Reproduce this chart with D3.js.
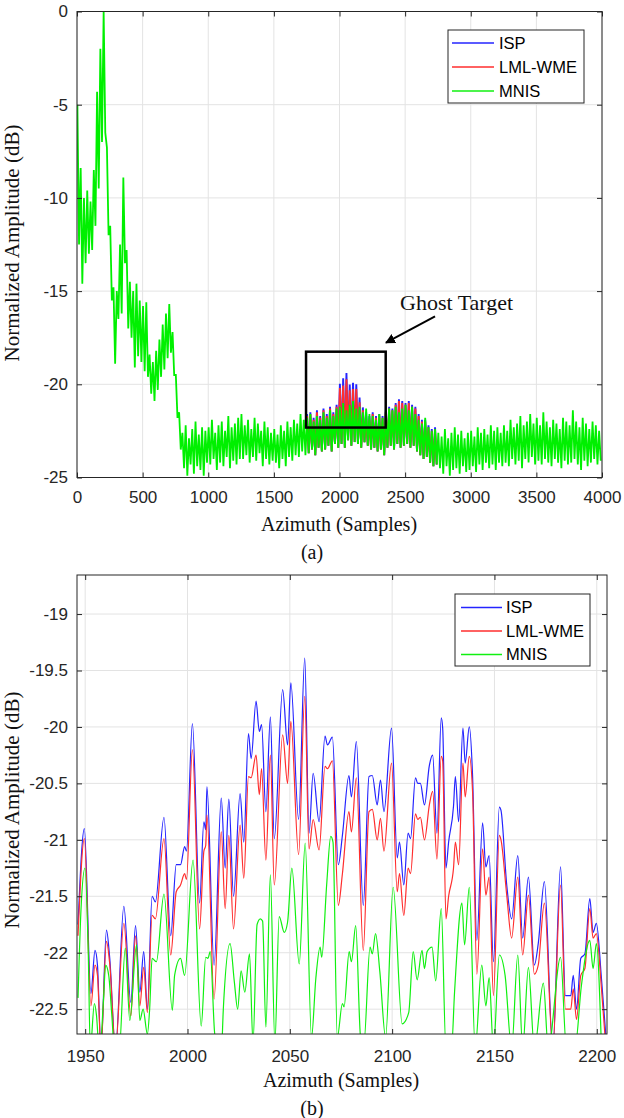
<!DOCTYPE html>
<html><head><meta charset="utf-8">
<script src="https://cdn.jsdelivr.net/npm/d3@7"></script>
<style>body{margin:0;background:#fff}</style>
</head><body>
<svg id="c" width="624" height="1118"></svg>
<script>
// ---------- DATA ----------
const seriesNames = ["ISP", "LML-WME", "MNIS"];
const seriesColors = ["#2424ff", "#ff2e2e", "#10f010"];

// Panel (a): envelopes per 25-sample bin (upper / lower)
const topBinStart = d3.range(0, 4000, 25);
const mnisHi = [
 -5.0,-8.4,-10.0,-9.6,-10.2,-8.5,-4.3,-2.0,0.0,-7.3,-11.5,-14.8,-15.0,-12.5,-8.9,-12.8,
 -14.5,-15.0,-14.6,-15.5,-15.8,-15.6,-18.4,-18.8,-18.2,-17.6,-16.8,-16.2,-15.7,-17.2,-19.5,-21.5,
 -22.6,-22.2,-22.9,-22.4,-22.0,-22.7,-22.3,-22.5,
 -22.3,-21.9,-22.6,-22.2,-22.0,-22.5,-21.7,-22.3,-22.1,-21.8,
 -21.6,-22.2,-21.9,-22.4,-21.8,-22.1,-22.5,-22.0,-22.3,-22.6,
 -22.4,-22.7,-22.2,-22.5,-22.0,-22.3,-21.9,-22.1,-21.6,-21.9,
 -21.8,-21.6,-22.0,-21.7,-21.9,-21.5,-21.8,-21.4,-21.7,-21.3,
 -21.2,-21.0,-21.4,-21.1,-20.9,-21.3,-21.2,-21.5,-21.3,-21.6,
 -21.7,-21.9,-21.6,-21.8,-21.5,-21.3,-21.4,-21.2,-21.5,-21.3,
 -21.1,-21.4,-21.2,-21.6,-21.9,-22.1,-21.8,-22.3,-22.5,-22.4,
 -22.6,-22.8,-22.4,-22.9,-22.6,-22.3,-22.7,-22.5,-22.9,-22.6,
 -22.5,-22.8,-22.3,-22.6,-22.4,-22.7,-22.2,-22.5,-22.3,-22.6,
 -22.2,-22.5,-21.9,-22.3,-22.1,-21.7,-22.2,-22.0,-21.6,-22.1,
 -21.8,-22.2,-21.5,-22.0,-22.3,-21.9,-22.1,-22.4,-21.8,-22.0,
 -22.2,-21.4,-22.0,-22.3,-21.8,-22.1,-22.4,-22.0,-22.2,-22.5
];
const mnisLo = [
 -12.5,-14.6,-13.5,-13.0,-12.8,-11.5,-9.5,-7.0,-6.5,-12.0,-15.5,-18.9,-16.5,-16.2,-13.5,-17.0,
 -17.5,-19.1,-18.5,-18.8,-19.3,-19.6,-20.5,-20.9,-20.3,-19.6,-19.2,-18.6,-18.3,-19.5,-21.8,-23.5,
 -24.5,-24.9,-24.3,-24.8,-24.4,-24.6,-24.9,-24.2,
 -24.3,-24.0,-24.6,-24.2,-24.4,-23.9,-24.5,-24.1,-24.3,-24.0,
 -24.0,-23.8,-24.2,-23.9,-24.1,-23.7,-24.4,-24.0,-24.3,-24.1,
 -24.2,-24.5,-24.0,-24.4,-23.9,-24.1,-23.8,-23.9,-23.6,-23.8,
 -23.7,-23.5,-23.8,-23.4,-23.6,-23.5,-23.3,-23.6,-23.2,-23.4,
 -23.2,-23.4,-23.0,-23.3,-23.1,-23.2,-23.4,-23.1,-23.3,-23.5,
 -23.4,-23.6,-23.5,-23.8,-23.4,-23.3,-23.5,-23.2,-23.4,-23.3,
 -23.2,-23.4,-23.3,-23.6,-23.8,-24.0,-23.9,-24.2,-24.4,-24.3,
 -24.5,-24.8,-24.4,-24.9,-24.6,-24.5,-24.8,-24.4,-24.7,-24.6,
 -24.4,-24.7,-24.3,-24.6,-24.2,-24.5,-24.3,-24.6,-24.2,-24.4,
 -24.2,-24.4,-24.0,-24.3,-24.1,-24.5,-24.0,-24.2,-23.9,-24.3,
 -24.1,-24.3,-24.0,-24.2,-24.4,-24.0,-24.2,-24.5,-24.1,-24.3,
 -24.2,-24.0,-24.3,-24.6,-24.1,-24.4,-24.2,-24.0,-24.3,-24.1
];
// ISP / LML-WME upper envelopes where they rise above MNIS (1750-2750)
const ghostBinStart = d3.range(1750, 2750, 25);
const ispHi = [
 -21.6,-21.5,-21.8,-21.4,-21.7,-21.3,-21.6,-21.2,-21.5,-21.1,
 -19.97,-19.67,-19.39,-20.01,-19.92,-20.0,-20.71,-21.24,-21.5,-21.7,
 -21.5,-21.7,-21.6,-21.7,-21.4,-21.2,-21.3,-21.0,-20.8,-20.9,
 -21.0,-20.9,-21.1,-21.2,-21.6,-21.9,-21.9,-22.2,-22.4,-22.3
];
const lmlHi = [
 -21.7,-21.6,-21.9,-21.5,-21.8,-21.4,-21.7,-21.3,-21.6,-21.2,
 -20.2,-20.07,-19.73,-20.32,-20.26,-20.26,-20.96,-21.4,-21.7,-21.9,
 -21.6,-21.8,-21.7,-21.8,-21.5,-21.3,-21.4,-21.1,-20.9,-21.0,
 -21.1,-21.0,-21.2,-21.3,-21.7,-22.0,-22.0,-22.3,-22.5,-22.4
];
const ghostLo = [
 -23.7,-23.5,-23.8,-23.4,-23.6,-23.5,-23.3,-23.6,-23.2,-23.4,
 -23.2,-23.4,-23.0,-23.3,-23.1,-23.2,-23.4,-23.1,-23.3,-23.5,
 -23.4,-23.6,-23.5,-23.8,-23.4,-23.3,-23.5,-23.2,-23.4,-23.3,
 -23.2,-23.4,-23.3,-23.6,-23.8,-24.0,-23.9,-24.2,-24.4,-24.3
];

// Panel (b): zoom 1946-2205
const zoomSamples = [1946.5,1949.6,1952.8,1954.8,1956.0,1957.7,1960.4,1962.0,1964.8,1968.9,1972.3,1974.6,1976.7,1978.6,1980.4,1982.7,1984.3,1988.5,1991.8,1994.5,1996.6,1998.6,1999.5,2002.4,2005.9,2008.0,2008.9,2009.5,2013.0,2016.5,2018.4,2020.2,2022.5,2025.7,2027.5,2029.8,2031.1,2033.5,2035.1,2036.2,2038.3,2040.5,2042.4,2046.5,2048.9,2050.5,2054.3,2057.3,2059.4,2061.4,2064.3,2067.2,2068.4,2070.8,2073.7,2075.7,2078.9,2080.1,2082.5,2085.9,2088.7,2090.3,2092.7,2094.3,2096.0,2099.7,2102.5,2103.6,2105.7,2107.8,2109.0,2111.4,2112.5,2113.8,2115.8,2118.2,2119.8,2121.9,2124.0,2124.7,2126.3,2127.6,2130.0,2130.9,2132.5,2134.6,2135.7,2137.7,2139.3,2141.4,2144.2,2145.8,2147.4,2149.5,2152.4,2153.2,2156.0,2158.4,2161.4,2163.8,2166.6,2169.5,2171.4,2174.4,2178.5,2182.3,2184.7,2187.3,2188.5,2190.1,2192.2,2194.2,2196.6,2198.2,2199.8,2202.3,2204.5];
const ispValues = [-21.75,-20.90,-22.36,-21.98,-22.11,-22.85,-21.80,-22.05,-22.85,-21.59,-22.44,-21.76,-22.35,-21.99,-22.50,-21.50,-21.55,-20.80,-21.85,-21.22,-21.22,-21.06,-21.10,-19.97,-21.56,-20.84,-20.91,-20.53,-22.11,-20.63,-21.25,-20.64,-21.50,-20.59,-21.02,-20.06,-20.28,-19.77,-20.04,-19.98,-20.75,-19.91,-20.99,-19.67,-20.16,-19.61,-20.82,-19.39,-20.94,-20.41,-20.84,-20.08,-20.16,-20.09,-21.22,-20.96,-20.43,-20.62,-20.13,-21.58,-20.44,-20.43,-20.69,-20.47,-20.75,-20.01,-21.16,-21.02,-21.40,-20.94,-20.99,-20.45,-20.50,-20.50,-20.69,-20.34,-20.25,-20.94,-19.92,-20.01,-21.25,-21.02,-20.70,-20.44,-20.84,-20.01,-20.32,-20.00,-20.43,-21.89,-20.85,-21.24,-21.14,-22.08,-20.71,-20.74,-21.40,-21.70,-21.14,-21.87,-21.33,-22.11,-21.92,-21.37,-22.85,-21.24,-22.38,-22.38,-22.20,-22.50,-22.05,-22.01,-21.52,-21.82,-21.74,-22.23,-22.75];
const lmlValues = [-21.85,-20.99,-22.47,-22.11,-22.20,-22.85,-21.90,-22.10,-22.85,-21.74,-22.56,-21.85,-22.47,-22.13,-22.53,-21.67,-21.70,-20.99,-22.02,-21.46,-21.40,-21.30,-21.35,-20.20,-21.79,-21.10,-21.05,-20.78,-22.41,-20.93,-21.61,-20.96,-21.79,-20.87,-21.34,-20.44,-20.45,-20.25,-20.60,-20.37,-21.18,-20.25,-21.40,-20.07,-20.50,-19.95,-21.13,-19.73,-21.08,-20.82,-21.09,-20.35,-20.37,-20.30,-21.58,-21.30,-20.75,-20.93,-20.45,-21.98,-20.75,-20.73,-21.00,-20.81,-21.10,-20.32,-21.46,-21.30,-21.67,-21.25,-21.30,-20.77,-20.82,-20.80,-21.00,-20.69,-20.57,-21.17,-20.26,-20.30,-21.70,-21.50,-21.25,-21.02,-21.22,-20.32,-20.62,-20.26,-20.57,-22.19,-21.08,-21.49,-21.33,-22.38,-20.96,-21.00,-21.49,-21.87,-21.33,-22.02,-21.49,-22.19,-22.11,-21.56,-22.85,-21.40,-22.50,-22.50,-22.32,-22.59,-22.20,-22.14,-21.61,-21.87,-21.83,-22.32,-22.85];
const mnisSamples = [1946.5,1948.0,1949.9,1951.5,1952.5,1954.5,1955.5,1957.0,1959.0,1960.0,1961.5,1963.0,1964.5,1966.5,1969.6,1971.8,1975.1,1976.7,1978.3,1980.4,1981.5,1982.7,1984.8,1988.5,1992.6,1993.7,1996.6,1998.6,2002.7,2006.7,2008.9,2010.0,2011.1,2013.2,2014.8,2016.5,2017.5,2020.8,2022.9,2024.5,2026.2,2028.0,2030.3,2032.0,2034.0,2035.6,2036.7,2038.3,2040.5,2042.7,2044.8,2047.3,2048.9,2051.0,2054.6,2057.5,2060.6,2062.7,2064.8,2065.6,2068.0,2070.0,2071.1,2073.2,2075.7,2076.5,2079.0,2080.1,2082.2,2084.6,2086.2,2089.2,2090.3,2091.9,2094.0,2096.8,2100.5,2104.9,2108.1,2110.3,2112.2,2114.6,2115.8,2117.1,2119.5,2121.3,2124.0,2126.3,2129.0,2130.5,2134.1,2135.4,2137.7,2140.6,2143.8,2145.8,2147.4,2149.5,2152.4,2155.2,2158.4,2161.4,2163.8,2166.6,2169.5,2173.9,2176.3,2182.3,2185.2,2189.3,2192.5,2196.6,2198.2,2199.8,2202.3];
const mnisValues = [-22.40,-21.60,-21.25,-22.00,-22.85,-22.45,-22.55,-22.90,-22.40,-22.11,-22.20,-22.55,-22.90,-22.90,-21.96,-22.60,-21.93,-22.60,-22.50,-22.72,-22.50,-22.05,-22.08,-21.48,-22.51,-22.20,-22.05,-22.20,-21.18,-22.65,-22.04,-22.05,-21.99,-22.70,-22.90,-22.90,-22.50,-21.92,-22.26,-22.50,-22.16,-22.35,-22.01,-22.80,-21.75,-21.70,-21.72,-22.66,-21.31,-22.80,-21.68,-21.82,-21.73,-21.25,-22.10,-21.03,-22.75,-22.23,-21.95,-22.04,-21.40,-20.97,-21.02,-22.75,-22.45,-22.48,-21.99,-22.08,-21.76,-22.75,-22.80,-21.95,-22.01,-21.83,-22.17,-22.75,-21.42,-22.63,-22.53,-21.99,-22.24,-21.98,-22.14,-21.99,-21.95,-22.25,-21.61,-22.85,-22.85,-22.35,-21.56,-21.93,-21.42,-22.85,-22.11,-22.47,-22.22,-22.85,-22.02,-22.20,-22.85,-22.02,-22.85,-22.13,-22.85,-22.27,-22.85,-22.04,-22.85,-22.85,-22.29,-21.89,-22.14,-21.92,-22.85];

// ticks
const topXTicks = [0,500,1000,1500,2000,2500,3000,3500,4000];
const topYTicks = [-25,-20,-15,-10,-5,0];
const botXTicks = [1950,2000,2050,2100,2150,2200];
const botYTicks = [-22.5,-22,-21.5,-21,-20.5,-20,-19.5,-19];

// annotation (data coords of panel a)
const ghostBox = {x0:1745, x1:2352, y0:-18.25, y1:-22.32};
const ghostArrow = {fromX:2728, fromY:-16.36, toX:2354, toY:-17.77};
const ghostLabel = {x:2461, y:-16.04, text:"Ghost Target"};

// ---------- DRAW ----------
const svg = d3.select("#c");
const SANS = "'Liberation Sans', Arial, Helvetica, sans-serif";
const SERIF = "'Liberation Serif', 'Times New Roman', serif";
const AX = "#262626";

const defs = svg.append("defs");
defs.append("marker").attr("id","arr").attr("viewBox","0 0 10 10").attr("refX",9).attr("refY",5)
  .attr("markerWidth",5).attr("markerHeight",5).attr("orient","auto")
  .append("path").attr("d","M0,0 L10,5 L0,10 z").attr("fill","#000");

function panel(cfg){
  const {L,R,T,B,xDom,yDom,xTicks,yTicks,padX,id} = cfg;
  const x = d3.scaleLinear().domain(xDom).range([L,R]);
  const y = d3.scaleLinear().domain(yDom).range([B,T]);
  const g = svg.append("g");
  g.append("g").selectAll("line").data(xTicks).join("line")
    .attr("x1",d=>x(d)).attr("x2",d=>x(d)).attr("y1",T).attr("y2",B)
    .attr("stroke","#e3e3e3").attr("stroke-width",1);
  g.append("g").selectAll("line").data(yTicks).join("line")
    .attr("y1",d=>y(d)).attr("y2",d=>y(d)).attr("x1",L).attr("x2",R)
    .attr("stroke","#e3e3e3").attr("stroke-width",1);
  defs.append("clipPath").attr("id",id).append("rect")
    .attr("x",L).attr("y",T).attr("width",R-L).attr("height",B-T);
  const data = g.append("g").attr("clip-path",`url(#${id})`);
  const fmt = d=>String(d);
  const ax = [
    [d3.axisBottom(x).tickValues(xTicks).tickSize(-5).tickPadding(padX).tickFormat(fmt), `translate(0,${B})`],
    [d3.axisTop(x).tickValues(xTicks).tickSize(-5).tickFormat(""), `translate(0,${T})`],
    [d3.axisLeft(y).tickValues(yTicks).tickSize(-5).tickPadding(9).tickFormat(fmt), `translate(${L},0)`],
    [d3.axisRight(y).tickValues(yTicks).tickSize(-5).tickFormat(""), `translate(${R},0)`]
  ];
  const axG = svg.append("g");
  ax.forEach(([a,tr])=>{
    const gg = axG.append("g").attr("transform",tr).call(a);
    gg.select(".domain").remove();
    gg.selectAll("line").attr("stroke",AX);
    gg.selectAll("text").attr("fill",AX).style("font-family",SANS).style("font-size","17px");
  });
  axG.append("rect").attr("x",L).attr("y",T).attr("width",R-L).attr("height",B-T)
    .attr("fill","none").attr("stroke",AX).attr("stroke-width",1);
  return {x,y,data,axG};
}

// zig-zag trace between the upper and lower envelope of each bin
function zig(bins, hi, lo){
  const pts = [];
  bins.forEach((s,i)=>{ pts.push([s+3,hi[i]]); pts.push([s+15.5,lo[i]]); });
  return pts;
}

function legend(parent, bx, by, bw, bh, lineX0, lineX1, textX, rows){
  parent.append("rect").attr("x",bx).attr("y",by).attr("width",bw).attr("height",bh)
    .attr("fill","#fff").attr("stroke",AX).attr("stroke-width",1);
  seriesNames.forEach((n,i)=>{
    parent.append("line").attr("x1",lineX0).attr("x2",lineX1).attr("y1",rows[i]).attr("y2",rows[i])
      .attr("stroke",seriesColors[i]).attr("stroke-width",1.3);
    parent.append("text").attr("x",textX).attr("y",rows[i]).attr("dy","0.36em")
      .attr("fill","#000").style("font-family",SANS).style("font-size","16.5px").text(n);
  });
}

// ---- Panel (a)
const A = panel({L:77,R:602,T:11.5,B:477.5,xDom:[0,4000],yDom:[-25,0],xTicks:topXTicks,yTicks:topYTicks,padX:13,id:"ca"});
const lineA = d3.line().x(d=>A.x(d[0])).y(d=>A.y(d[1]));
function drawTop(bins, hi, lo, color, w){
  A.data.append("path").attr("d",lineA(zig(bins,hi,lo)))
    .attr("fill","none").attr("stroke",color).attr("stroke-width",w).attr("stroke-linejoin","miter");
}
drawTop(ghostBinStart, ispHi, ghostLo, seriesColors[0], 1.9);
drawTop(ghostBinStart, lmlHi, ghostLo, seriesColors[1], 1.9);
drawTop(topBinStart, mnisHi, mnisLo, "#00f000", 1.8);

legend(A.axG, 448, 30, 136, 73, 452, 494, 499, [43, 67, 91]);

A.axG.append("rect").attr("x",A.x(ghostBox.x0)).attr("y",A.y(ghostBox.y0))
  .attr("width",A.x(ghostBox.x1)-A.x(ghostBox.x0)).attr("height",A.y(ghostBox.y1)-A.y(ghostBox.y0))
  .attr("fill","none").attr("stroke","#000").attr("stroke-width",2.5);
A.axG.append("line").attr("x1",A.x(ghostArrow.fromX)).attr("y1",A.y(ghostArrow.fromY))
  .attr("x2",A.x(ghostArrow.toX)).attr("y2",A.y(ghostArrow.toY))
  .attr("stroke","#000").attr("stroke-width",2).attr("marker-end","url(#arr)");
A.axG.append("text").attr("x",A.x(ghostLabel.x)).attr("y",A.y(ghostLabel.y))
  .style("font-family",SERIF).style("font-size","22px").attr("fill","#111").text(ghostLabel.text);

svg.append("text").attr("transform","translate(19,243) rotate(-90)").attr("text-anchor","middle")
  .style("font-family",SERIF).style("font-size","21px").attr("fill","#111").text("Normalized Amplitude (dB)");
svg.append("text").attr("x",339).attr("y",531).attr("text-anchor","middle")
  .style("font-family",SERIF).style("font-size","20px").attr("fill","#111").text("Azimuth (Samples)");
svg.append("text").attr("x",312).attr("y",559).attr("text-anchor","middle")
  .style("font-family",SERIF).style("font-size","20px").attr("fill","#111").text("(a)");

// ---- Panel (b)
const Bp = panel({L:77,R:607,T:575,B:1034,xDom:[1946,2205],yDom:[-22.72,-18.654],xTicks:botXTicks,yTicks:botYTicks,padX:16,id:"cb"});
const lineB = d3.line().x(d=>Bp.x(d[0])).y(d=>Bp.y(d[1])).curve(d3.curveMonotoneX);
const zipS = (xs,ys)=>xs.map((s,i)=>[s,ys[i]]);
Bp.data.append("path").attr("d",lineB(zipS(zoomSamples,ispValues)))
  .attr("fill","none").attr("stroke",seriesColors[0]).attr("stroke-width",1.2);
Bp.data.append("path").attr("d",lineB(zipS(zoomSamples,lmlValues)))
  .attr("fill","none").attr("stroke",seriesColors[1]).attr("stroke-width",1.2);
Bp.data.append("path").attr("d",lineB(zipS(mnisSamples,mnisValues)))
  .attr("fill","none").attr("stroke",seriesColors[2]).attr("stroke-width",1.2);

legend(Bp.axG, 455, 594, 135, 72, 461, 502, 506, [607.5, 631, 654.5]);

svg.append("text").attr("transform","translate(19,810) rotate(-90)").attr("text-anchor","middle")
  .style("font-family",SERIF).style("font-size","21px").attr("fill","#111").text("Normalized Amplitude (dB)");
svg.append("text").attr("x",341).attr("y",1087).attr("text-anchor","middle")
  .style("font-family",SERIF).style("font-size","20px").attr("fill","#111").text("Azimuth (Samples)");
svg.append("text").attr("x",312).attr("y",1115).attr("text-anchor","middle")
  .style("font-family",SERIF).style("font-size","20px").attr("fill","#111").text("(b)");
</script>
</body></html>
